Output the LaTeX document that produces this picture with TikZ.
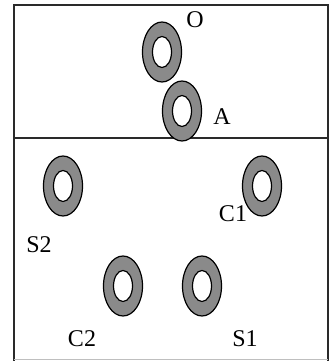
\documentclass[tikz,border=0pt]{standalone}
\usepackage{fontspec}
\setmainfont{Liberation Serif}
\usetikzlibrary{shapes.geometric}
\definecolor{ringgray}{HTML}{8A8A8A}
\definecolor{linegray}{HTML}{2A2A2A}
\tikzset{
  ring/.style={ellipse, draw=black, line width=1.2pt, fill=ringgray,
    minimum width=39pt, minimum height=60pt, inner sep=0pt,
    path picture={\draw[black, line width=1.2pt, fill=white]
      (path picture bounding box.center) ellipse [x radius=9.5pt, y radius=15.5pt];}},
  lbl/.style={inner sep=0pt, text=black, font=\fontsize{24}{24}\selectfont},
  frame/.style={draw=linegray, line width=2pt}
}
\begin{document}
\begin{tikzpicture}[x=1pt, y=-1pt]
\useasboundingbox (0,0) rectangle (333,361);
\fill[white] (0,0) rectangle (333,361);
\coordinate (tl) at (13.5,5.5);
\coordinate (tr) at (327.5,5.5);
\coordinate (bl) at (13.5,362);
\coordinate (br) at (327.5,362);
\coordinate (ml) at (13.5,137.5);
\coordinate (mr) at (327.5,137.5);
\draw[frame] (bl) -- (tl) -- (tr) -- (br);
\draw[draw=black!25, line width=0.8pt] (bl) ++(0,-3) coordinate (blb) -- (br |- blb);
\draw[frame] (ml) -- (mr);
% labels
\node[lbl] (lO) at (195,20) {O};
\node[lbl] (lA) at (222,117) {A};
\node[lbl] (lC1) at (233,214) {C1};
\node[lbl] (lS2) at (39,245) {S2};
\node[lbl] (lC2) at (82,339) {C2};
\node[lbl] (lS1) at (245,339) {S1};
% rings
\node[ring] (rO) at (162,52) {};
\node[ring] (rA) at (182,111) {};
\node[ring] (rS2) at (63,186) {};
\node[ring] (rC1) at (262,186) {};
\node[ring] (rC2) at (123,286) {};
\node[ring] (rS1) at (202,286) {};
\end{tikzpicture}
\end{document}
